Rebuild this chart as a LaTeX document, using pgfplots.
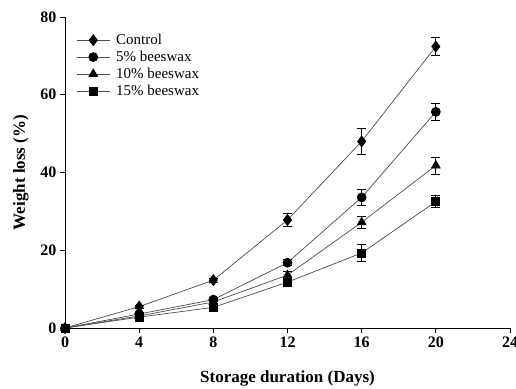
\documentclass[border=0pt]{standalone}
\usepackage{pgfplots}
\pgfplotsset{compat=1.18}
\usepackage{fontspec}
\setmainfont{Liberation Serif}
\begin{document}
\begin{tikzpicture}
\begin{axis}[
  name=ax,
  scale only axis,
  width=445pt, height=311pt,
  xmin=0, xmax=24, ymin=0, ymax=80,
  xtick={0,4,8,12,16,20,24},
  ytick={0,20,40,60,80},
  axis lines=left,
  axis line style={-, line width=0.9pt},
  tick align=outside,
  major tick length=5pt,
  tick style={line width=0.9pt, black},
  /pgf/number format/assume math mode=true,
  tick label style={font=\fontsize{16}{19}\selectfont\bfseries},
  label style={font=\fontsize{17}{20}\selectfont\bfseries},
  xlabel={Storage duration (Days)},
  ylabel={Weight loss (\%)},
  xlabel style={yshift=-17pt},
  ylabel style={yshift=5pt},
  clip=false,
  legend style={draw=none, fill=none, at={(0.023,0.955)}, anchor=north west,
    font=\fontsize{15}{17}\selectfont, row sep=1pt, inner sep=1pt, column sep=4pt},
  legend cell align=left,
  legend image code/.code={
    \draw[#1, mark=none] (0pt,0pt) -- (33pt,0pt);
    \path[#1] plot coordinates {(16.5pt,0pt)};
  },
  error bars/error bar style={line width=0.8pt, black},
  error bars/error mark options={rotate=90, mark size=4.5pt, line width=0.8pt, black},
]
\addplot[line width=0.7pt, black!70, mark=diamond*, mark size=5.5pt, mark options={fill=black, draw=black, solid},
  error bars/.cd, y dir=both, y explicit]
  coordinates {(0,0) +- (0,0) (4,5.5) +- (0,0.4) (8,12.3) +- (0,0.5) (12,27.8) +- (0,1.6) (16,48.0) +- (0,3.4) (20,72.4) +- (0,2.4)};
\addlegendentry{Control}
\addplot[line width=0.7pt, black!70, mark=*, mark size=4.5pt, mark options={fill=black, draw=black, solid},
  error bars/.cd, y dir=both, y explicit]
  coordinates {(0,0) +- (0,0) (4,3.6) +- (0,0.3) (8,7.3) +- (0,0.4) (12,16.8) +- (0,0.8) (16,33.6) +- (0,2.0) (20,55.6) +- (0,2.1)};
\addlegendentry{5\% beeswax}
\addplot[line width=0.7pt, black!70, mark=triangle*, mark size=5pt, mark options={fill=black, draw=black, solid},
  error bars/.cd, y dir=both, y explicit]
  coordinates {(0,0) +- (0,0) (4,3.1) +- (0,0.3) (8,6.7) +- (0,0.4) (12,13.6) +- (0,0.9) (16,27.2) +- (0,1.5) (20,41.8) +- (0,2.2)};
\addlegendentry{10\% beeswax}
\addplot[line width=0.7pt, black!70, mark=square*, mark size=4pt, mark options={fill=black, draw=black, solid},
  error bars/.cd, y dir=both, y explicit]
  coordinates {(0,0) +- (0,0) (4,2.8) +- (0,0.3) (8,5.3) +- (0,0.4) (12,11.8) +- (0,0.8) (16,19.3) +- (0,2.2) (20,32.5) +- (0,1.5)};
\addlegendentry{15\% beeswax}
\end{axis}
\pgfresetboundingbox
\path ([xshift=-65pt,yshift=-60pt]ax.south west) rectangle ([xshift=6pt,yshift=17pt]ax.north east);
\end{tikzpicture}
\end{document}
